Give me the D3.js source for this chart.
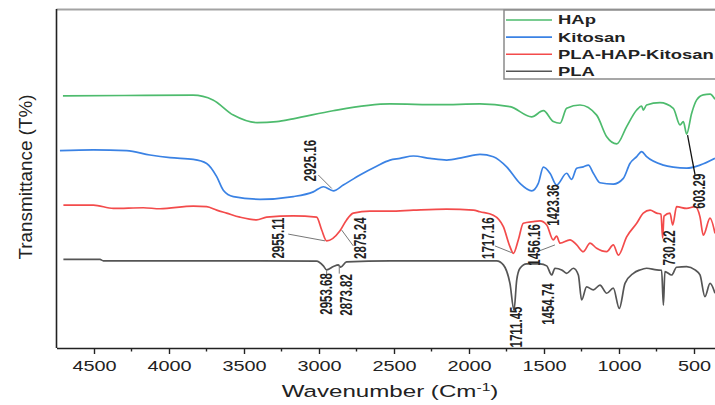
<!DOCTYPE html>
<html>
<head>
<meta charset="utf-8">
<script src="https://cdn.jsdelivr.net/npm/d3@7"></script>
<style>
  body { margin: 0; background: #fff; }
  svg { display: block; font-family: Arial, "Liberation Sans", sans-serif; }
</style>
</head>
<body>
<script>
const W = 715, H = 405;
const SX = 1.42; // source picture is stretched sideways, text follows it

// wavenumber (cm-1), transmittance (offset units)
const hapData = [
  [4707,74.6],[4300,74.7],[3840,74.8],[3707,73.4],[3571,68.9],[3413,66.7],[3282,67.0],
  [3173,67.8],[2907,70.2],[2527,72.2],[2200,72.0],[1927,72.2],[1727,71.4],[1582,68.4],
  [1504,70.2],[1438,67.0],[1393,66.5],[1349,70.9],[1260,71.9],[1149,68.9],[1082,62.5],
  [1015,60.4],[949,65.5],[882,70.4],[849,71.6],[838,70.4],[816,71.9],[727,72.6],
  [638,70.9],[593,66.0],[571,67.0],[549,63.3],[516,69.4],[482,73.4],[438,74.9],
  [393,75.1],[360,73.6]
];
const kitosanData = [
  [4727,58.4],[4504,58.6],[4282,58.4],[4127,57.1],[3993,56.3],[3838,55.8],[3749,54.6],
  [3682,50.7],[3638,46.7],[3571,44.8],[3393,44.0],[3171,44.8],[3038,46.2],[2971,47.7],
  [2904,46.5],[2838,48.2],[2727,51.2],[2616,53.8],[2527,55.6],[2460,56.1],[2371,56.8],
  [2260,56.1],[2149,55.6],[2038,56.4],[1927,57.3],[1838,56.6],[1749,53.6],[1660,48.7],
  [1582,46.5],[1538,48.7],[1504,53.5],[1460,51.7],[1416,48.2],[1349,51.7],[1316,49.9],
  [1282,53.2],[1238,53.6],[1204,54.1],[1171,51.7],[1127,48.9],[1038,48.5],[971,50.2],
  [927,54.6],[882,56.6],[849,58.1],[816,56.6],[704,54.1],[638,53.5],[549,53.2],
  [460,54.1],[360,56.1]
];
const compositeData = [
  [4704,42.3],[4504,42.3],[4371,41.3],[4171,41.5],[4060,41.2],[3838,42.0],[3749,41.8],
  [3682,40.8],[3616,39.9],[3527,38.7],[3416,37.9],[3349,38.7],[3171,39.1],[3016,38.7],
  [2982,34.9],[2949,31.7],[2860,34.7],[2816,37.9],[2771,39.9],[2660,40.5],[2527,40.5],
  [2371,40.8],[2149,41.1],[1971,40.8],[1927,40.3],[1838,39.3],[1771,35.9],[1727,30.0],
  [1704,28.0],[1671,32.0],[1638,36.9],[1571,37.4],[1527,37.6],[1482,36.4],[1438,32.0],
  [1416,33.1],[1393,31.0],[1327,32.0],[1282,30.5],[1238,28.5],[1193,31.0],[1149,29.5],
  [1082,28.5],[1038,30.5],[1004,27.5],[949,32.9],[882,36.9],[838,39.9],[793,40.8],
  [749,39.9],[720,39.6],[709,32.5],[700,39.0],[660,39.9],[642,36.4],[616,41.8],
  [549,41.3],[493,41.8],[460,38.8],[438,33.4],[393,38.4],[360,33.9]
];
const plaData = [
  [4704,26.2],[4460,26.2],[4438,25.8],[3838,25.8],[3393,25.8],[3016,25.7],[2971,24.3],
  [2949,23.1],[2904,24.1],[2871,24.6],[2856,23.9],[2816,25.5],[2527,25.8],[2149,25.8],
  [1816,25.8],[1771,24.6],[1727,19.1],[1700,11.2],[1682,20.1],[1660,23.6],[1616,24.9],
  [1527,24.9],[1482,24.3],[1449,21.6],[1427,23.6],[1382,23.1],[1349,22.1],[1304,23.6],
  [1271,21.6],[1249,14.2],[1216,18.1],[1171,17.2],[1127,18.6],[1082,16.2],[1038,17.7],
  [998,11.7],[960,19.1],[904,22.1],[860,23.1],[816,23.6],[749,23.1],[716,23.0],
  [704,12.7],[694,22.6],[649,21.6],[616,23.9],[549,24.1],[493,23.1],[460,21.6],
  [427,15.2],[393,19.1],[360,16.2]
];

const seriesNames = ["HAp", "Kitosan", "PLA-HAP-Kitosan", "PLA"];
const seriesData = [hapData, kitosanData, compositeData, plaData];
const seriesColors = ["#4dbb6d", "#3a82e4", "#f34b4b", "#555555"];

const xTicks = [4500, 4000, 3500, 3000, 2500, 2000, 1500, 1000, 500];
const xMinorTicks = [4250, 3750, 3250, 2750, 2250, 1750, 1250, 750];

// peak labels: where the text sits and the leader line, in chart units
const peakLabels = [
  { text: "2925.16", at: [3060, 55.4], from: [3005, 51.2], to: [2915, 47.2] },
  { text: "2955.11", at: [3271, 32.5], from: [3205, 33.7], to: [2960, 31.7] },
  { text: "2875.24", at: [2727, 32.5], from: [2849, 34.9], to: [2771, 30.2] },
  { text: "2953.68", at: [2955, 16.0], from: [2949, 23.1], to: [2949, 21.3] },
  { text: "2873.82", at: [2820, 15.7], from: [2865, 24.6], to: [2865, 22.0] },
  { text: "1717.16", at: [1871, 32.5], from: [1827, 30.2], to: [1715, 28.2] },
  { text: "1456.16", at: [1567, 30.5], from: [1527, 28.8], to: [1427, 30.5] },
  { text: "1423.36", at: [1438, 42.3] },
  { text: "1711.45", at: [1682, 6.2] },
  { text: "1454.74", at: [1471, 13.0] },
  { text: "730.22",  at: [667, 29.6] },
  { text: "603.29",  at: [467, 46.4], from: [543, 63.0], to: [493, 51.2] }
];

const svg = d3.select("body").append("svg")
  .attr("width", W)
  .attr("height", H);

const x = d3.scaleLinear().domain([4750, 350]).range([56.5, 716.5]);
const y = d3.scaleLinear().domain([0, 100]).range([348, 10]);

// frame: grey top edge, dark left axis
svg.append("line")
  .attr("x1", x(4750)).attr("x2", W)
  .attr("y1", 9.5).attr("y2", 9.5)
  .attr("stroke", "#a3a3a3").attr("stroke-width", 2);
svg.append("line")
  .attr("x1", x(4750)).attr("x2", x(4750))
  .attr("y1", 9).attr("y2", y(0))
  .attr("stroke", "#222").attr("stroke-width", 1.6);

// spectra
const line = d3.line()
  .x(d => x(d[0]))
  .y(d => y(d[1]))
  .curve(d3.curveMonotoneX);

svg.append("g").selectAll("path")
  .data(seriesData)
  .join("path")
    .attr("d", line)
    .attr("fill", "none")
    .attr("stroke", (d, i) => seriesColors[i])
    .attr("stroke-width", 1.7)
    .attr("stroke-linejoin", "round");

// x axis
const xAxis = svg.append("g")
  .attr("transform", `translate(0,${y(0)})`)
  .call(d3.axisBottom(x)
    .tickValues(xTicks)
    .tickFormat(d3.format("d"))
    .tickSize(6).tickSizeOuter(0).tickPadding(7));
xAxis.select(".domain").attr("stroke", "#222").attr("stroke-width", 1.6);
xAxis.selectAll(".tick line").attr("stroke", "#222").attr("stroke-width", 1.4);
xAxis.selectAll(".tick text")
  .attr("font-size", 14)
  .attr("font-family", "Arial, 'Liberation Sans', sans-serif")
  .attr("fill", "#222")
  .attr("transform", `scale(${SX},1)`);

svg.append("g").selectAll("line")
  .data(xMinorTicks)
  .join("line")
    .attr("x1", d => x(d)).attr("x2", d => x(d))
    .attr("y1", y(0)).attr("y2", y(0) + 3.5)
    .attr("stroke", "#222").attr("stroke-width", 1.4);

// axis titles
const xTitle = svg.append("text")
  .attr("transform", `translate(390,397) scale(${SX},1)`)
  .attr("text-anchor", "middle")
  .attr("font-size", 17)
  .attr("fill", "#222");
xTitle.append("tspan").text("Wavenumber (Cm");
xTitle.append("tspan").attr("dy", -6).attr("font-size", 11).text("-1");
xTitle.append("tspan").attr("dy", 6).text(")");

svg.append("text")
  .attr("transform", "translate(26,177) scale(1.25,1) rotate(-90)")
  .attr("text-anchor", "middle")
  .attr("dominant-baseline", "central")
  .attr("font-size", 15)
  .attr("textLength", 165)
  .attr("lengthAdjust", "spacingAndGlyphs")
  .attr("fill", "#222")
  .text("Transmittance (T%)");

// peak annotations
const ann = svg.append("g");
ann.selectAll("line")
  .data(peakLabels.filter(d => d.from))
  .join("line")
    .attr("x1", d => x(d.from[0])).attr("y1", d => y(d.from[1]))
    .attr("x2", d => x(d.to[0])).attr("y2", d => y(d.to[1]))
    .attr("stroke", d => d.text === "603.29" ? "#111" : "#777")
    .attr("stroke-width", d => d.text === "603.29" ? 1.3 : 1);
ann.selectAll("text")
  .data(peakLabels)
  .join("text")
    .attr("transform", d => `translate(${x(d.at[0])},${y(d.at[1])}) scale(${SX},1) rotate(-90)`)
    .attr("text-anchor", "middle")
    .attr("dominant-baseline", "central")
    .attr("font-size", 11.5)
    .attr("font-weight", "bold")
    .attr("fill", "#222")
    .text(d => d.text);

// legend
const legend = svg.append("g");
legend.append("rect")
  .attr("x", 504).attr("y", 10)
  .attr("width", 240).attr("height", 69)
  .attr("fill", "#fff")
  .attr("stroke", "#8a8a8a").attr("stroke-width", 1.5);
const rows = legend.selectAll("g.row")
  .data(seriesNames)
  .join("g")
    .attr("class", "row")
    .attr("transform", (d, i) => `translate(0,${20 + i * 17.1})`);
rows.append("line")
  .attr("x1", 506).attr("x2", 552)
  .attr("stroke", (d, i) => seriesColors[i])
  .attr("stroke-width", 1.6);
rows.append("text")
  .attr("transform", `translate(558,0) scale(${SX},1)`)
  .attr("dominant-baseline", "central")
  .attr("font-size", 13)
  .attr("font-weight", "bold")
  .attr("fill", "#222")
  .text(d => d);
</script>
</body>
</html>
